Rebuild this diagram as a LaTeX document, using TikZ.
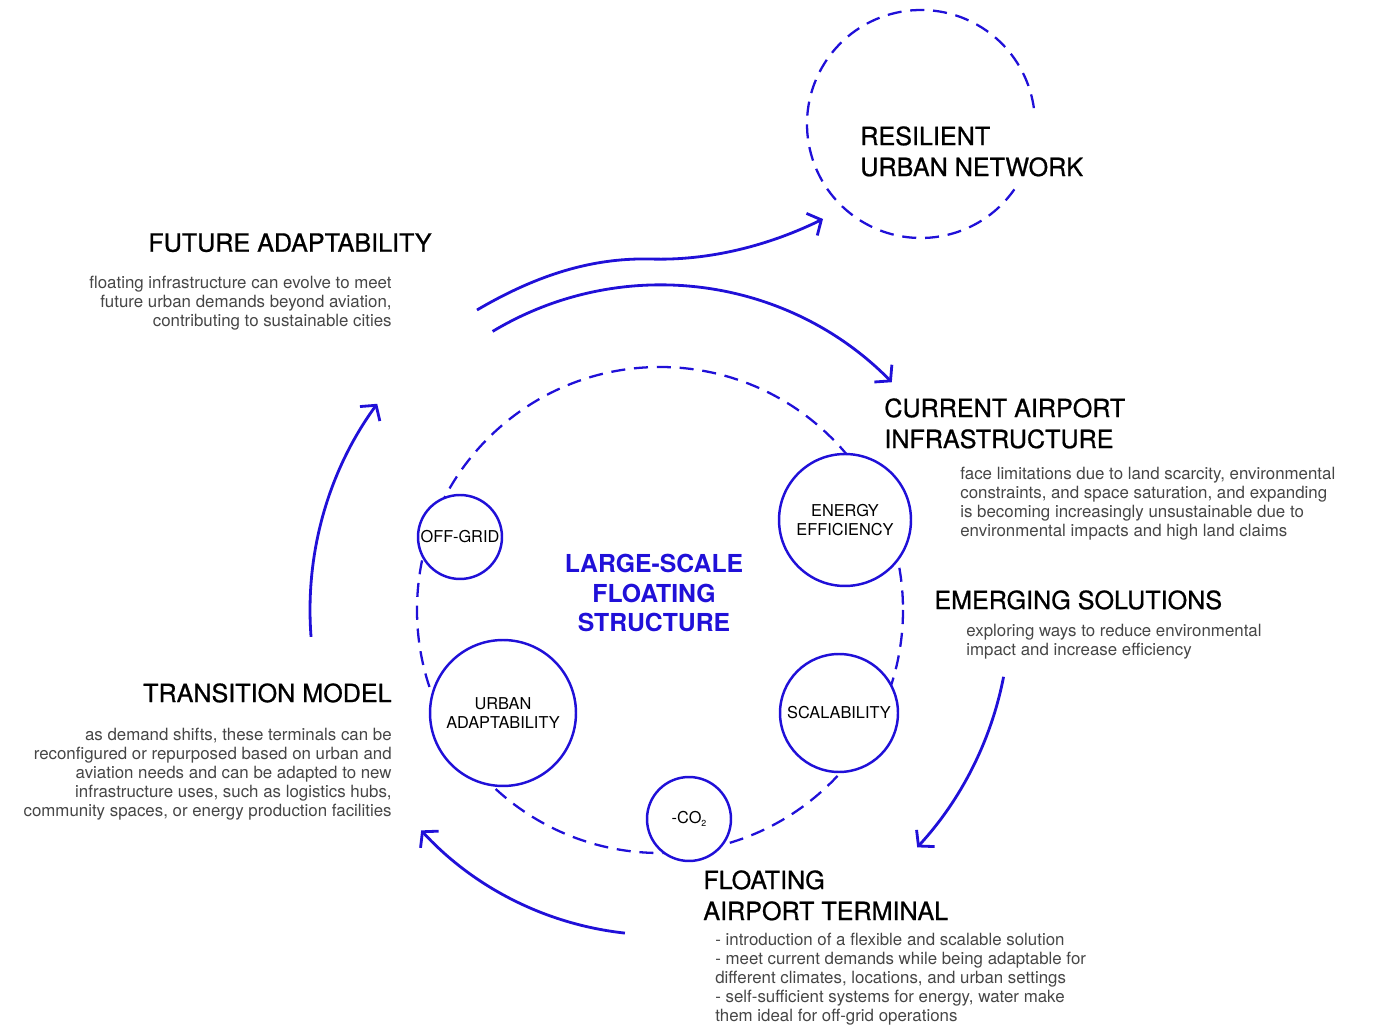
\documentclass[tikz,border=0pt]{standalone}
\usepackage{fontspec}
\setmainfont{TeX Gyre Heros}
\newfontfamily\headfont[FakeBold=0.8]{TeX Gyre Heros}
\usetikzlibrary{arrows.meta,calc}
\definecolor{ink}{RGB}{32,16,216}
\definecolor{note}{RGB}{70,70,70}

\begin{document}
\begin{tikzpicture}[x=0.02cm, y=-0.02cm,
    flow/.style = {draw=ink, line width=1.6pt, -{Straight Barb[length=6pt,width=14pt]}},
    ring/.style = {draw=ink, line width=1.3pt, dash pattern=on 8pt off 5pt},
    pod/.style = {draw=ink, line width=1.4pt, circle, fill=white, inner sep=0pt, align=center, font=\fontsize{9.3}{10.8}\selectfont},
    title/.style = {inner sep=0pt, align=left, font=\headfont\fontsize{14.3}{17.6}\selectfont},
    note/.style = {inner sep=0pt, text=note, font=\fontsize{9.6}{10.8}\selectfont}]
  \useasboundingbox (0,0) rectangle (1373,1026);

  % the floating structure and its parts
  \coordinate (core) at (660,610);
  \draw[ring] (core) circle[radius=243];
  \node[pod, minimum size=1.68cm] (offgrid) at (460,537) {\raisebox{-1pt}{OFF-GRID}};
  \node[pod, minimum size=2.64cm] (energy) at (845,520) {ENERGY\\EFFICIENCY};
  \node[pod, minimum size=2.92cm] (urban) at (503,713) {URBAN\\ADAPTABILITY};
  \node[pod, minimum size=2.36cm] (scale) at (839,713) {\raisebox{-2pt}{SCALABILITY}};
  \node[pod, minimum size=1.68cm] (co2) at (689,819) {\raisebox{-1pt}{-CO\raisebox{-0.4ex}{\fontsize{5}{5}\selectfont 2}}};
  \node[text=ink, align=center, font=\bfseries\fontsize{14.1}{17}\selectfont] (lsfs) at (654,593) {LARGE-SCALE\\FLOATING\\STRUCTURE};

  % network goal
  \coordinate (net) at (921,124);
  \draw[ring] (net) ++(35:114) arc[start angle=35, end angle=353.5, radius=114];
  \node[title, anchor=north west] (resilient) at (860,126) {RESILIENT\\URBAN NETWORK};

  % stages of the cycle
  \node[title, anchor=north west] (future) at (148,233) {FUTURE ADAPTABILITY};
  \node[note, anchor=north east, align=right] (future-txt) at (392,276) {floating infrastructure can evolve to meet\\future urban demands beyond aviation,\\contributing to sustainable cities};
  \node[title, anchor=north west] (current) at (884,398) {CURRENT AIRPORT\\INFRASTRUCTURE};
  \node[note, anchor=north west, align=left] (current-txt) at (960,467) {face limitations due to land scarcity, environmental\\constraints, and space saturation, and expanding\\is becoming increasingly unsustainable due to\\environmental impacts and high land claims};
  \node[title, anchor=north west] (emerging) at (934,590) {EMERGING SOLUTIONS};
  \node[note, anchor=north west, align=left] (emerging-txt) at (966,624) {exploring ways to reduce environmental\\impact and increase efficiency};
  \node[title, anchor=north west] (terminal) at (703,870) {FLOATING\\AIRPORT TERMINAL};
  \node[note, anchor=north west, align=left] (terminal-txt) at (715,933) {- introduction of a flexible and scalable solution\\- meet current demands while being adaptable for\\different climates, locations, and urban settings\\- self-sufficient systems for energy, water make\\them ideal for off-grid operations};
  \node[title, anchor=north east] (transition) at (392,683) {TRANSITION MODEL};
  \node[note, anchor=north east, align=right] (transition-txt) at (392,728) {as demand shifts, these terminals can be\\reconfigured or repurposed based on urban and\\aviation needs and can be adapted to new\\infrastructure uses, such as logistics hubs,\\community spaces, or energy production facilities};

  % arrows round the cycle
  \coordinate (fa-out) at ($(core)+(239:325)$);
  \coordinate (es-out) at ($(core)+(11:350)$);
  \coordinate (ft-out) at ($(core)+(96.2:325)$);
  \coordinate (tm-out) at ($(core)+(175.6:350)$);
  \draw[flow] (fa-out) arc[start angle=239, end angle=315.5, radius=325];
  \draw[flow] (es-out) arc[start angle=11, end angle=42.7, radius=350];
  \draw[flow] (ft-out) arc[start angle=96.2, end angle=137.3, radius=325];
  \draw[flow] (tm-out) arc[start angle=175.6, end angle=216.1, radius=350];

  % way out to the network
  \coordinate (up-from) at (477,310);
  \coordinate (up-mid) at (650,259);
  \coordinate (up-to) at (823,219);
  \draw[flow] (up-from) .. controls (545,270) and (600,258) .. (up-mid)
    .. controls (710,261) and (770,245) .. (up-to);
\end{tikzpicture}
\end{document}
